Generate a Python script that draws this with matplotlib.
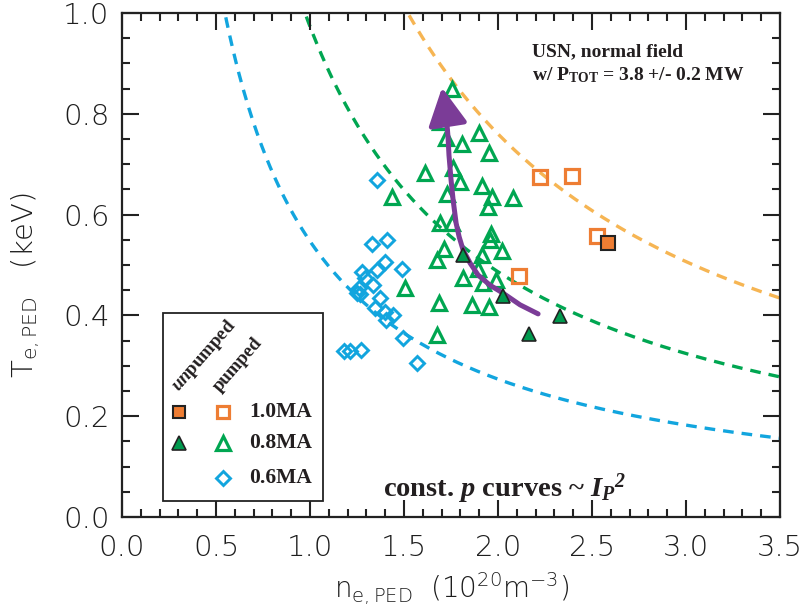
import numpy as np
import matplotlib.pyplot as plt
from matplotlib.patches import FancyArrowPatch, Rectangle
from matplotlib.path import Path
from matplotlib.ticker import MultipleLocator, FormatStrFormatter

plt.rcParams['font.family'] = 'DejaVu Sans'
plt.rcParams['mathtext.fontset'] = 'custom'
plt.rcParams['mathtext.it'] = 'Liberation Serif:italic:bold'
plt.rcParams['mathtext.rm'] = 'Liberation Serif:italic:bold'  # digits inside \mathit
plt.rcParams['mathtext.default'] = 'regular'

# ---------------- data ----------------
# 1.0 MA
sq_open_n = [2.223, 2.394, 2.527, 2.112]
sq_open_T = [0.675, 0.677, 0.558, 0.478]
sq_fill_n = [2.585]
sq_fill_T = [0.544]

# 0.8 MA
tri_fill_n = [1.814, 2.027, 2.330, 2.165]
tri_fill_T = [0.520, 0.438, 0.399, 0.363]
tri_open_n = [1.755, 1.691, 1.723, 1.809, 1.899, 1.952, 1.612, 1.761, 1.798, 1.915,
              1.968, 1.947, 2.080, 1.436, 1.729, 1.691, 1.755, 1.963, 1.957, 2.021,
              1.713, 1.676, 1.915, 1.894, 1.814, 1.920, 1.989, 1.505, 1.686, 1.862,
              1.952, 1.676]
tri_open_T = [0.849, 0.784, 0.752, 0.740, 0.762, 0.722, 0.683, 0.692, 0.665, 0.657,
              0.635, 0.615, 0.633, 0.635, 0.641, 0.583, 0.583, 0.562, 0.550, 0.528,
              0.532, 0.510, 0.520, 0.492, 0.474, 0.464, 0.470, 0.454, 0.425, 0.421,
              0.417, 0.361]

# 0.6 MA
dia_n = [1.356, 1.330, 1.410, 1.399, 1.489, 1.356, 1.277, 1.293, 1.335, 1.261,
         1.250, 1.266, 1.372, 1.346, 1.399, 1.441, 1.404, 1.495, 1.569, 1.181,
         1.213, 1.271]
dia_T = [0.669, 0.542, 0.550, 0.506, 0.492, 0.490, 0.486, 0.474, 0.460, 0.454,
         0.444, 0.442, 0.435, 0.415, 0.407, 0.401, 0.391, 0.355, 0.306, 0.329,
         0.329, 0.331]

# const. p curves (p ~ Ip^2)
p_const = {"1.0MA": 1.52, "0.8MA": 0.973, "0.6MA": 0.547}

# trend arrow
arrow_n = [2.213, 2.117, 2.027, 1.957, 1.894, 1.851, 1.814, 1.793, 1.777,
           1.761, 1.750, 1.739, 1.734, 1.723, 1.702]
arrow_T = [0.403, 0.421, 0.444, 0.460, 0.480, 0.504, 0.530, 0.556, 0.583,
           0.629, 0.669, 0.718, 0.754, 0.802, 0.852]

# ---------------- colours ----------------
c_orange = "#EE7D33"
c_orange_ln = "#F6B553"
c_green = "#00A651"
c_green_f = "#009A4E"
c_blue = "#12A5DE"
c_purple = "#7B3C97"
c_txt = "#1e1e1e"

fig = plt.figure(figsize=(8.03, 6.13), dpi=100)
ax = fig.add_axes([0.152, 0.1566, 0.8194, 0.8222])

# dashed curves
n_grid = np.linspace(0.3, 3.5, 400)
for key, col in [("0.6MA", c_blue), ("0.8MA", c_green), ("1.0MA", c_orange_ln)]:
    ax.plot(n_grid, p_const[key] / n_grid, ls=(0, (3.2, 2.4)), lw=2.4, color=col, zorder=1)

# pumped (open)
ax.plot(dia_n, dia_T, ls='none', marker='D', ms=7.5, mfc='none', mec=c_blue, mew=2.1, zorder=2)
ax.plot(tri_open_n, tri_open_T, ls='none', marker='^', ms=10.5, mfc='none', mec=c_green, mew=2.3, zorder=2)
ax.plot(sq_open_n, sq_open_T, ls='none', marker='s', ms=9.5, mfc='none', mec=c_orange, mew=2.3, zorder=2)

# trend arrow
arr = FancyArrowPatch(path=Path(np.column_stack([arrow_n, arrow_T])),
                      arrowstyle="-|>,head_length=2.3,head_width=1.2", mutation_scale=10,
                      lw=3.6, color=c_purple, zorder=3)
ax.add_patch(arr)

# unpumped (filled)
ax.plot(tri_fill_n, tri_fill_T, ls='none', marker='^', ms=10.5, mfc=c_green_f, mec='#222222', mew=1.2, zorder=4)
ax.plot(sq_fill_n, sq_fill_T, ls='none', marker='s', ms=9.5, mfc=c_orange, mec='#222222', mew=1.5, zorder=4)

ax.set_xlim(0, 3.5)
ax.set_ylim(0, 1.0)
ax.xaxis.set_major_locator(MultipleLocator(0.5))
ax.xaxis.set_minor_locator(MultipleLocator(0.1))
ax.yaxis.set_major_locator(MultipleLocator(0.2))
ax.yaxis.set_minor_locator(MultipleLocator(0.05))
ax.xaxis.set_major_formatter(FormatStrFormatter('%.1f'))
ax.yaxis.set_major_formatter(FormatStrFormatter('%.1f'))
ax.tick_params(which='both', direction='in', top=True, right=True, width=1.5, color='#222222')
ax.tick_params(which='major', length=12, labelsize=21, labelcolor=c_txt)
ax.tick_params(which='minor', length=6)
ax.tick_params(axis='x', pad=12)
ax.tick_params(axis='y', pad=9)
for lbl in ax.get_xticklabels() + ax.get_yticklabels():
    lbl.set_fontweight('light')
for s in ax.spines.values():
    s.set_linewidth(1.6)
    s.set_color('#222222')

ax.set_xlabel(r"n$_{e,PED}$  (10$^{20}$m$^{-3}$)", fontsize=20, color=c_txt, fontweight='light', labelpad=6)
ax.set_ylabel(r"T$_{e,PED}$   (keV)", fontsize=21, color=c_txt, fontweight='light')
ax.yaxis.set_label_coords(-0.122, 0.46)

# annotations
serif = dict(family='Liberation Serif', weight='bold', color='#231F20')
ax.text(0.623, 0.923, "USN, normal field", transform=ax.transAxes, fontsize=14, va='center', **serif)
ax.text(0.623, 0.877, r"w/ P$_{TOT}$ = 3.8 +/- 0.2 MW", transform=ax.transAxes, fontsize=14, va='center', **serif)
ax.text(0.397, 0.040, r"const. $\mathit{p}$ curves ~ $\mathit{{I_P}^2}$", transform=ax.transAxes,
        fontsize=20.5, va='baseline', **serif)

# hand-made legend box
ax.add_patch(Rectangle((0.0623, 0.0317), 0.2432, 0.3733, transform=ax.transAxes,
                       fc='white', ec='#222222', lw=1.3, zorder=5))
ax.text(0.086, 0.248, r"$\mathit{un}$pumped", transform=ax.transAxes, rotation=49,
        rotation_mode='anchor', ha='left', va='baseline', fontsize=13.5, zorder=6, **serif)
ax.text(0.148, 0.248, "pumped", transform=ax.transAxes, rotation=49,
        rotation_mode='anchor', ha='left', va='baseline', fontsize=13.5, zorder=6, **serif)

rows = [("1.0MA", 0.208), ("0.8MA", 0.147), ("0.6MA", 0.0774)]
x_un, x_pu, x_lab = 0.0866, 0.1535, 0.193
ax.plot([x_un], [rows[0][1]], transform=ax.transAxes, marker='s', ms=9, mfc=c_orange, mec='#222222', mew=1.5, zorder=6, clip_on=False)
ax.plot([x_pu], [rows[0][1]], transform=ax.transAxes, marker='s', ms=9, mfc='none', mec=c_orange, mew=2.3, zorder=6, clip_on=False)
ax.plot([x_un], [rows[1][1]], transform=ax.transAxes, marker='^', ms=9.5, mfc=c_green_f, mec='#222222', mew=1.2, zorder=6, clip_on=False)
ax.plot([x_pu], [rows[1][1]], transform=ax.transAxes, marker='^', ms=9.5, mfc='none', mec=c_green, mew=2.3, zorder=6, clip_on=False)
ax.plot([x_pu], [rows[2][1]], transform=ax.transAxes, marker='D', ms=7.5, mfc='none', mec=c_blue, mew=2.1, zorder=6, clip_on=False)
for lab, yy in rows:
    ax.text(x_lab, yy, lab, transform=ax.transAxes, fontsize=15.5, va='center', zorder=6, **serif)

fig.savefig("out.png", dpi=100)
